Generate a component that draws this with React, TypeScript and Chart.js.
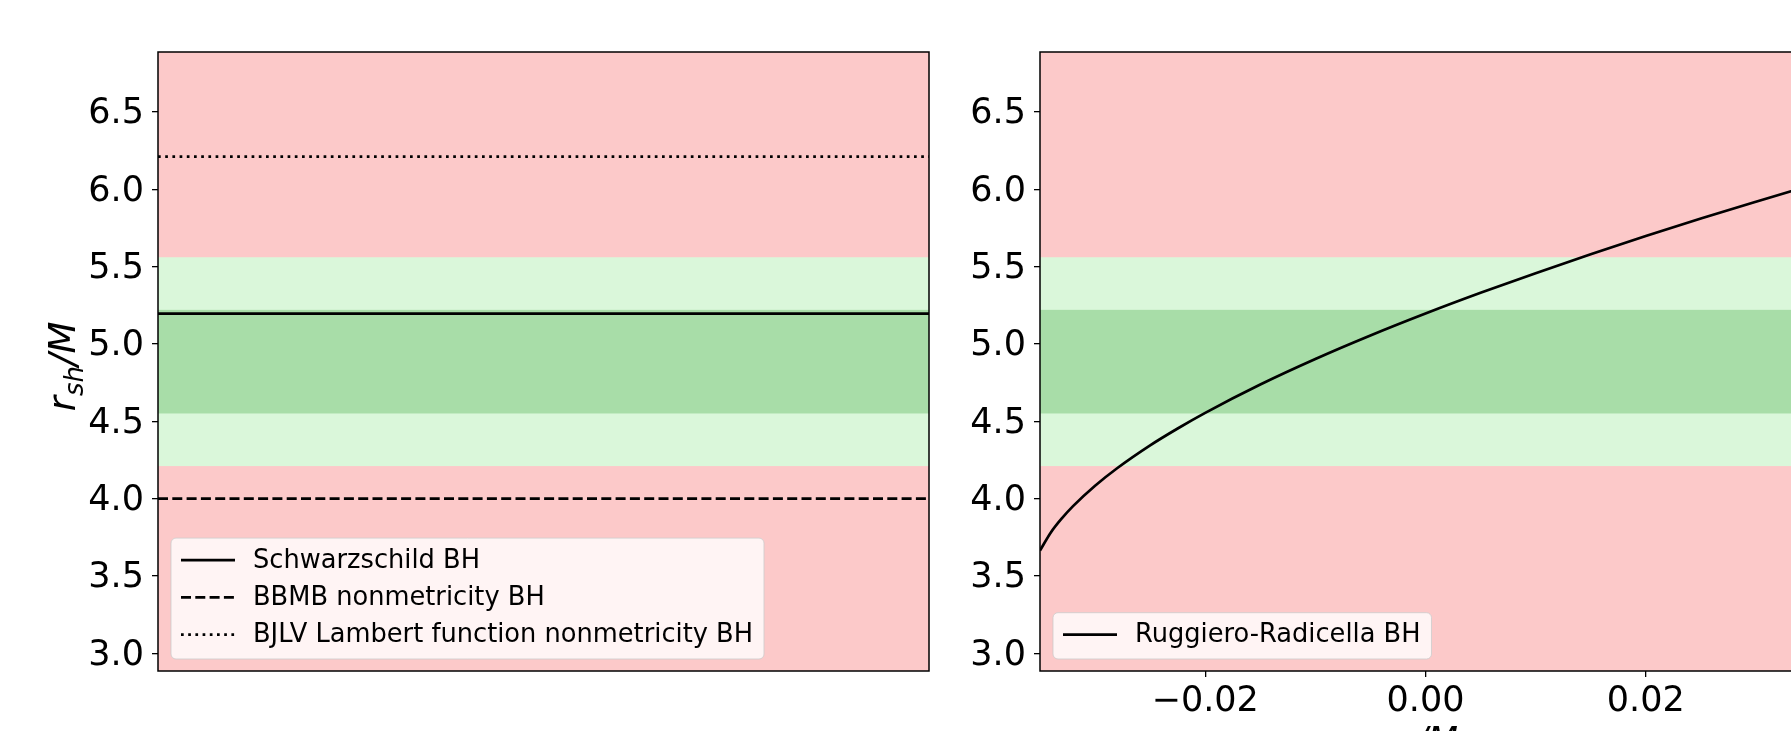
import React, { useEffect, useRef } from "react";
import { Chart, registerables } from "chart.js";

Chart.register(...registerables);

// ---------- data ----------
const yTicks = [3.0, 3.5, 4.0, 4.5, 5.0, 5.5, 6.0, 6.5];
const yRange = [2.885, 6.887];

const xTicksRight = [-0.02, 0.0, 0.02];
const xRangeRight = [-0.035, 0.035];
const xRangeLeft = [0, 1];

const band2Sigma = [4.21, 5.56];
const band1Sigma = [4.55, 5.22];

const schwarzschildValue = 5.196;
const bbmbValue = 4.0;
const bjlvValue = 6.21;

const leftLabels = [
  "Schwarzschild BH",
  "BBMB nonmetricity BH",
  "BJLV Lambert function nonmetricity BH",
];
const rightLabels = ["Ruggiero-Radicella BH"];

const rrX = [
  -0.035, -0.034, -0.033, -0.032, -0.03, -0.028, -0.025, -0.0225, -0.02,
  -0.015, -0.01, -0.005, 0.0, 0.005, 0.01, 0.015, 0.02, 0.025, 0.03, 0.035,
];
const rrY = [
  3.664, 3.782, 3.873, 3.951, 4.083, 4.196, 4.344, 4.453, 4.554, 4.737, 4.902,
  5.054, 5.196, 5.33, 5.457, 5.579, 5.697, 5.81, 5.919, 6.026,
];

const yAxisTitle = { main: "r", sub: "sh", tail: "/M" };
const xAxisTitleRight = "α/M";

// ---------- styles ----------
const FONT = "DejaVu Sans";
const RED = "#fcc9c9";
const LIGHT_GREEN = "#daf7da";
const DARK_GREEN = "#a8dda8";
const LW = 2.7;
const DASHED = [10, 4.3];
const DOTTED = [2.7, 4.5];

function bandsPlugin() {
  return {
    id: "bands",
    beforeDatasetsDraw(chart: any) {
      const { ctx, chartArea: a, scales } = chart;
      const y = scales.y;
      const w = a.right - a.left;
      ctx.save();
      ctx.fillStyle = RED;
      ctx.fillRect(a.left, a.top, w, a.bottom - a.top);
      const t2 = y.getPixelForValue(band2Sigma[1]);
      const b2 = y.getPixelForValue(band2Sigma[0]);
      ctx.fillStyle = LIGHT_GREEN;
      ctx.fillRect(a.left, t2, w, b2 - t2);
      const t1 = y.getPixelForValue(band1Sigma[1]);
      const b1 = y.getPixelForValue(band1Sigma[0]);
      ctx.fillStyle = DARK_GREEN;
      ctx.fillRect(a.left, t1, w, b1 - t1);
      ctx.restore();
    },
  };
}

type LegendItem = { label: string; dash: number[] };

function frameAndLegendPlugin(items: LegendItem[], extra?: (chart: any) => void) {
  return {
    id: "frameLegend",
    afterDatasetsDraw(chart: any) {
      const { ctx, chartArea: a } = chart;
      ctx.save();
      // frame
      ctx.strokeStyle = "#000";
      ctx.lineWidth = 1.5;
      ctx.strokeRect(a.left, a.top, a.right - a.left, a.bottom - a.top);

      // legend
      const fs = 25.7;
      ctx.font = `${fs}px ${FONT}`;
      const pitch = 37.3;
      const padL = 10;
      const handle = 54;
      const gap = 18;
      const padR = 11;
      let tw = 0;
      items.forEach((it) => {
        tw = Math.max(tw, ctx.measureText(it.label).width);
      });
      const bw = padL + handle + gap + tw + padR;
      const bh = items.length * pitch + 9;
      const bx = a.left + 13;
      const by = a.bottom - 12 - bh;
      ctx.beginPath();
      (ctx as any).roundRect(bx, by, bw, bh, 5);
      ctx.fillStyle = "rgba(255,255,255,0.8)";
      ctx.fill();
      ctx.strokeStyle = "rgba(204,204,204,0.8)";
      ctx.lineWidth = 1;
      ctx.stroke();
      items.forEach((it, i) => {
        const cy = by + 22 + i * pitch;
        ctx.beginPath();
        ctx.setLineDash(it.dash);
        ctx.strokeStyle = "#000";
        ctx.lineWidth = LW;
        ctx.moveTo(bx + padL, cy);
        ctx.lineTo(bx + padL + handle, cy);
        ctx.stroke();
        ctx.setLineDash([]);
        ctx.fillStyle = "#000";
        ctx.textBaseline = "middle";
        ctx.textAlign = "left";
        ctx.fillText(it.label, bx + padL + handle + gap, cy + 1);
      });
      ctx.restore();
      if (extra) extra(chart);
    },
  };
}

function yScale(width: number) {
  return {
    type: "linear",
    position: "left",
    min: yRange[0],
    max: yRange[1],
    afterBuildTicks: (s: any) => {
      s.ticks = yTicks.map((v) => ({ value: v }));
    },
    afterFit: (s: any) => {
      s.width = width;
    },
    ticks: {
      callback: (v: any) => Number(v).toFixed(1),
      font: { family: FONT, size: 35 },
      color: "#000",
      padding: 8,
      labelOffset: 2.5,
      autoSkip: false,
    },
    grid: {
      drawOnChartArea: false,
      drawTicks: true,
      tickLength: 6,
      color: "#000",
      lineWidth: 1.3,
    },
    border: { display: false },
  };
}

function hLine(value: number, dash: number[]) {
  return {
    data: xRangeLeft.map((x) => ({ x, y: value })),
    borderColor: "#000",
    borderWidth: LW,
    borderDash: dash,
    pointRadius: 0,
    fill: false,
  };
}

export default function App() {
  const leftRef = useRef<HTMLCanvasElement>(null);
  const rightRef = useRef<HTMLCanvasElement>(null);

  useEffect(() => {
    document.body.style.margin = "0";
    const drawYTitle = (chart: any) => {
      const { ctx, chartArea: a } = chart;
      const fs = 37;
      const sfs = 26;
      ctx.save();
      ctx.translate(75, (a.top + a.bottom) / 2 + 5);
      ctx.rotate(-Math.PI / 2);
      ctx.fillStyle = "#000";
      ctx.textBaseline = "alphabetic";
      ctx.textAlign = "left";
      ctx.font = `italic ${fs}px ${FONT}`;
      const wr = ctx.measureText(yAxisTitle.main).width;
      const wt = ctx.measureText(yAxisTitle.tail).width;
      ctx.font = `italic ${sfs}px ${FONT}`;
      const ws = ctx.measureText(yAxisTitle.sub).width;
      const x0 = -(wr + ws + wt) / 2;
      ctx.font = `italic ${fs}px ${FONT}`;
      ctx.fillText(yAxisTitle.main, x0, 0);
      ctx.font = `italic ${sfs}px ${FONT}`;
      ctx.fillText(yAxisTitle.sub, x0 + wr, 8);
      ctx.font = `italic ${fs}px ${FONT}`;
      ctx.fillText(yAxisTitle.tail, x0 + wr + ws, 0);
      ctx.restore();
    };

    const left = new Chart(leftRef.current as HTMLCanvasElement, {
      type: "line",
      data: {
        datasets: [
          hLine(schwarzschildValue, []),
          hLine(bbmbValue, DASHED),
          hLine(bjlvValue, DOTTED),
        ] as any,
      },
      options: {
        animation: false,
        responsive: false,
        devicePixelRatio: 1,
        events: [],
        layout: { padding: { top: 52, right: 11, bottom: 60, left: 0 } },
        plugins: { legend: { display: false }, tooltip: { enabled: false } },
        scales: {
          x: { type: "linear", min: xRangeLeft[0], max: xRangeLeft[1], display: false },
          y: yScale(158) as any,
        },
      } as any,
      plugins: [
        bandsPlugin(),
        frameAndLegendPlugin(
          [
            { label: leftLabels[0], dash: [] },
            { label: leftLabels[1], dash: DASHED },
            { label: leftLabels[2], dash: DOTTED },
          ],
          drawYTitle
        ),
      ] as any,
    });

    const drawXTitle = (chart: any) => {
      const { ctx, chartArea: a } = chart;
      ctx.save();
      ctx.fillStyle = "#000";
      ctx.font = `italic 35px ${FONT}`;
      ctx.textAlign = "center";
      ctx.textBaseline = "alphabetic";
      ctx.fillText(xAxisTitleRight, (a.left + a.right) / 2, a.bottom + 81);
      ctx.restore();
    };

    const right = new Chart(rightRef.current as HTMLCanvasElement, {
      type: "line",
      data: {
        datasets: [
          {
            data: rrX.map((x, i) => ({ x, y: rrY[i] })),
            borderColor: "#000",
            borderWidth: LW,
            pointRadius: 0,
            fill: false,
            cubicInterpolationMode: "monotone",
          },
        ] as any,
      },
      options: {
        animation: false,
        responsive: false,
        devicePixelRatio: 1,
        events: [],
        layout: { padding: { top: 52, right: 29, bottom: 0, left: 0 } },
        plugins: { legend: { display: false }, tooltip: { enabled: false } },
        scales: {
          x: {
            type: "linear",
            position: "bottom",
            min: xRangeRight[0],
            max: xRangeRight[1],
            afterBuildTicks: (s: any) => {
              s.ticks = xTicksRight.map((v) => ({ value: v }));
            },
            afterFit: (s: any) => {
              s.height = 129;
            },
            ticks: {
              callback: (v: any) => Number(v).toFixed(2).replace("-", "\u2212"),
              font: { family: FONT, size: 35 },
              color: "#000",
              padding: 4,
              autoSkip: false,
              maxRotation: 0,
            },
            grid: {
              drawOnChartArea: false,
              drawTicks: true,
              tickLength: 6,
              color: "#000",
              lineWidth: 1.3,
            },
            border: { display: false },
          },
          y: yScale(100) as any,
        },
      } as any,
      plugins: [
        bandsPlugin(),
        frameAndLegendPlugin([{ label: rightLabels[0], dash: [] }], drawXTitle),
      ] as any,
    });

    return () => {
      left.destroy();
      right.destroy();
    };
  }, []);

  return (
    <div
      style={{
        position: "fixed",
        left: 0,
        top: 0,
        width: 1791,
        height: 731,
        overflow: "hidden",
        background: "#fff",
      }}
    >
      <canvas
        ref={leftRef}
        width={940}
        height={731}
        style={{ position: "absolute", left: 0, top: 0, width: 940, height: 731 }}
      />
      <canvas
        ref={rightRef}
        width={900}
        height={800}
        style={{ position: "absolute", left: 940, top: 0, width: 900, height: 800 }}
      />
    </div>
  );
}
